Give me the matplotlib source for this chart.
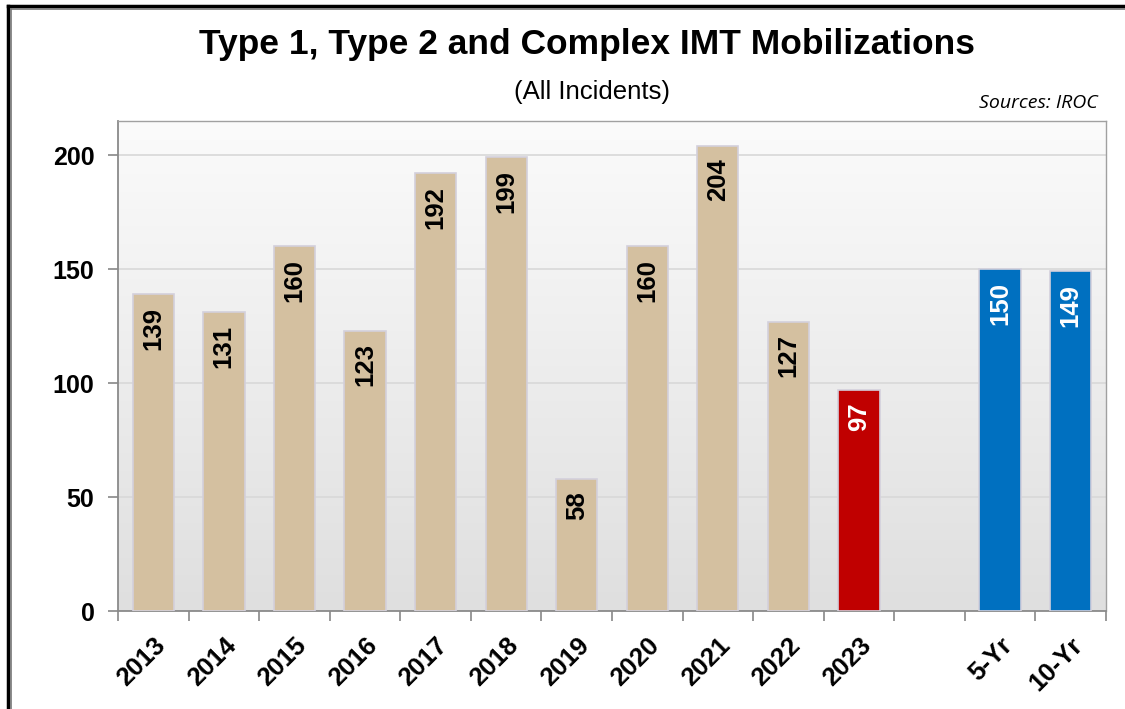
import numpy as np
import matplotlib.pyplot as plt
from matplotlib.lines import Line2D

categories = ['2013', '2014', '2015', '2016', '2017', '2018', '2019', '2020',
              '2021', '2022', '2023', '', '5-Yr', '10-Yr']
values = [139, 131, 160, 123, 192, 199, 58, 160, 204, 127, 97, None, 150, 149]
colors = ['#D4C0A0'] * 10 + ['#C00000', 'none', '#0070C0', '#0070C0']
label_colors = ['black'] * 10 + ['white', 'white', 'white', 'white']

plt.rcParams['font.family'] = ['Liberation Sans', 'DejaVu Sans']

fig = plt.figure(figsize=(11.25, 7.09), dpi=100)
ax = fig.add_axes([0.1049, 0.1382, 0.8782, 0.6911])

# gradient background of plot area
grad = np.linspace(0, 1, 256).reshape(-1, 1)
ax.imshow(grad, cmap=plt.matplotlib.colors.LinearSegmentedColormap.from_list(
    'bg', ['#fbfbfb', '#dfdfdf']), aspect='auto', extent=[0, 1, 0, 1],
    transform=ax.transAxes, zorder=0, origin='upper')

x = np.arange(len(categories))
for i, v in enumerate(values):
    if v is None:
        continue
    ax.bar(x[i], v, width=0.585, color=colors[i], edgecolor='#d3d0dc',
           linewidth=1.2, zorder=3)
    ax.annotate(str(v), (x[i], v), xytext=(0, -9), textcoords='offset points',
                rotation=90, ha='center', va='top', fontsize=18.5,
                fontweight='bold', color=label_colors[i], zorder=4)

ax.set_xlim(-0.5, len(categories) - 0.5)
ax.set_ylim(0, 215)
ax.set_yticks([0, 50, 100, 150, 200])
ax.yaxis.grid(True, color='#d8d8d8', linewidth=1.2, zorder=1)
ax.set_axisbelow(True)

ax.set_xticks(x)
ax.set_xticklabels(categories, rotation=45, ha='right', rotation_mode='anchor',
                   fontsize=18.5, fontweight='bold')
ax.set_xticks(np.arange(-0.5, len(categories)), minor=True)
ax.tick_params(axis='x', which='major', length=0, pad=16)
ax.tick_params(axis='x', which='minor', length=7, color='#888888', width=1.2)
ax.tick_params(axis='y', length=7, color='#888888', width=1.2, pad=10,
               labelsize=18)
for t in ax.get_yticklabels():
    t.set_fontweight('bold')

for side in ['left', 'bottom']:
    ax.spines[side].set_color('#8a8a8a')
    ax.spines[side].set_linewidth(1.3)
for side in ['top', 'right']:
    ax.spines[side].set_color('#a0a0a0')
    ax.spines[side].set_linewidth(1.0)

fig.text(0.522, 0.937, 'Type 1, Type 2 and Complex IMT Mobilizations',
         ha='center', va='center', fontsize=25.5, fontweight='bold')
fig.text(0.526, 0.870, '(All Incidents)', ha='center', va='center', fontsize=18.5)
fig.text(0.976, 0.855, 'Sources: IROC', ha='right', va='center', fontsize=14,
         style='italic', family=['Open Sans', 'DejaVu Sans'])

# outer frame (left and top edges visible)
fig.add_artist(Line2D([0.0071, 0.0071], [0, 0.9915], color='black', lw=2.5,
                      transform=fig.transFigure))
fig.add_artist(Line2D([0.0071, 1], [0.9915, 0.9915], color='black', lw=2.5,
                      transform=fig.transFigure))
fig.add_artist(Line2D([0.0094, 0.0094], [0, 0.988], color='#777777', lw=1.2,
                      transform=fig.transFigure))
fig.add_artist(Line2D([0.0094, 1], [0.988, 0.988], color='#777777', lw=1.2,
                      transform=fig.transFigure))

fig.savefig('out.png', dpi=100)
